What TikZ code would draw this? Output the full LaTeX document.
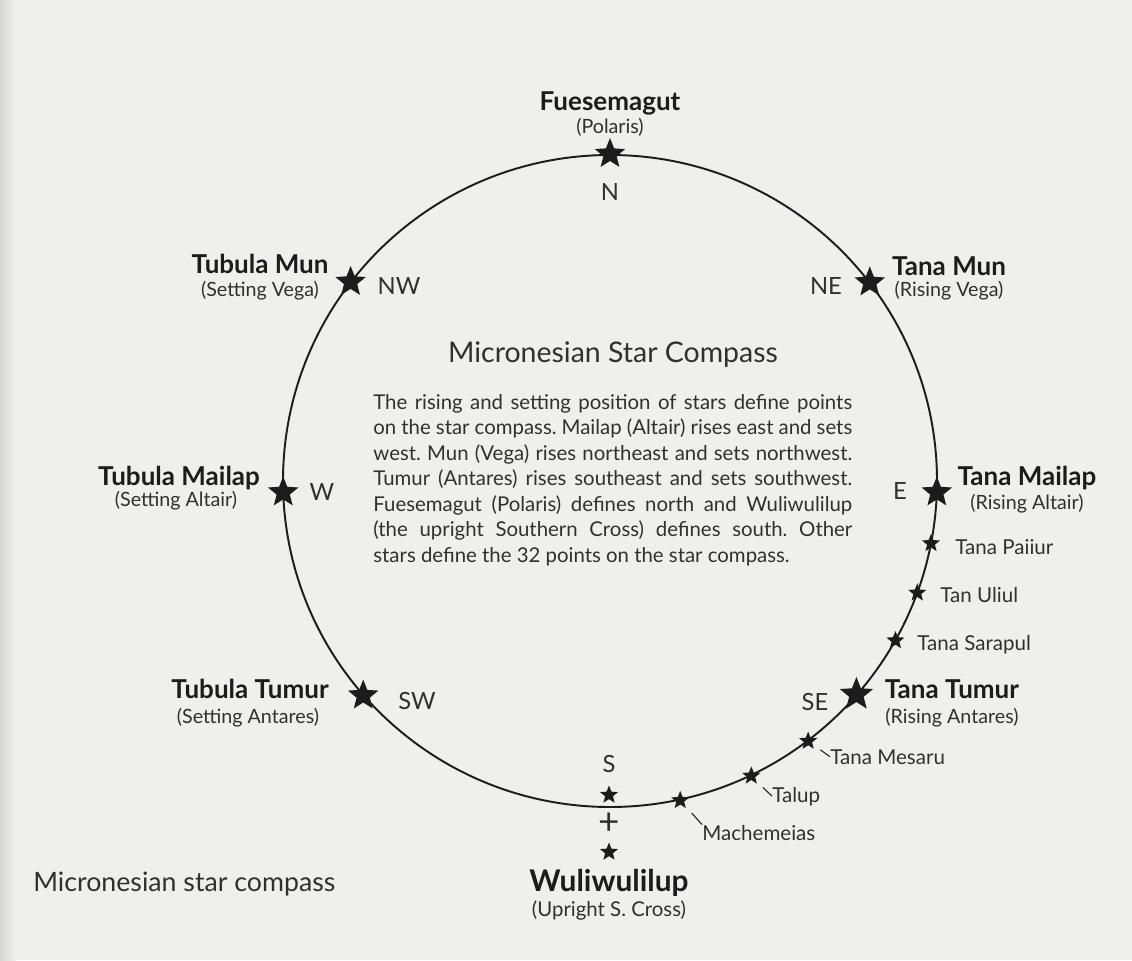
\documentclass[tikz,border=0pt]{standalone}
\usepackage{fontspec}
\setmainfont{Lato}
\frenchspacing
\usetikzlibrary{shapes.geometric,calc}
\definecolor{paper}{HTML}{EFEFED}
\definecolor{shadow}{HTML}{D6D6D4}
\definecolor{ink}{HTML}{1C1C1C}
\definecolor{inksoft}{HTML}{303030}

\begin{document}
\begin{tikzpicture}[x=0.02cm,y=-0.02cm,
  bigstar/.style={star,star points=5,star point ratio=2.3,fill=ink,draw=none,inner sep=0pt,minimum size=0.64cm},
  hugestar/.style={bigstar,minimum size=0.70cm},
  smallstar/.style={star,star points=5,star point ratio=2.3,fill=ink,draw=none,inner sep=0pt,minimum size=0.38cm},
  starname/.style={font=\bfseries\fontsize{14.8}{16}\selectfont,text=ink,inner sep=0pt,anchor=base},
  starsub/.style={font=\fontsize{11.2}{13}\selectfont,text=inksoft,inner sep=0pt,anchor=base},
  compassdir/.style={font=\fontsize{13.5}{15}\selectfont,text=inksoft,inner sep=0pt,anchor=base},
  minorname/.style={font=\fontsize{11.7}{13}\selectfont,text=inksoft,inner sep=0pt,anchor=base west},
  leader/.style={draw=ink,line width=0.6pt,shorten <=5.1pt}
]
% paper, with the darker fold along the left edge
\fill[paper] (0,0) rectangle (1132,960);
\shade[left color=shadow,right color=paper] (0,0) rectangle (16,960);
\useasboundingbox (0,0) rectangle (1132,960);

% the compass ring
\coordinate (O) at (610,481);
\draw[ink,line width=1.1pt] (O) circle [x radius=327, y radius=326];

% cardinal and intercardinal stars (angles measured clockwise, y grows downward)
\node[bigstar]  (sN)  at ($(O)+(-90:327)$) {};
\node[bigstar]  (sNE) at ($(O)+(-37.4:327)$) {};
\node[bigstar]  (sNW) at ($(O)+(-142.5:327)$) {};
\node[bigstar]  (sE)  at ($(O)+(2:327)$) {};
\node[bigstar]  (sW)  at ($(O)+(178:327)$) {};
\node[hugestar] (sSE) at ($(O)+(40.9:326)$) {};
\node[bigstar]  (sSW) at ($(O)+(139:327)$) {};

% minor stars between east and south
\node[smallstar] (sPai) at ($(O)+(11:327)$) {};
\node[smallstar] (sUli) at ($(O)+(20:327)$) {};
\node[smallstar] (sSar) at ($(O)+(29.2:327)$) {};
\node[smallstar] (sMes) at ($(O)+(52.7:327)$) {};
\node[smallstar] (sTal) at ($(O)+(64.4:327)$) {};
\node[smallstar] (sMac) at ($(O)+(77.6:327)$) {};

% Southern Cross, upright
\node[smallstar] (sCrossTop) at (609,795) {};
\node[smallstar] (sCrossBot) at (609,852) {};
\node[font=\fontsize{21}{22}\selectfont,text=inksoft,inner sep=0pt] (plus) at (609,824) {+};

% north
\node[starname] (lN)  at (610,110) {Fuesemagut};
\node[starsub]  (lNs) at (610,133) {(Polaris)};
\node[compassdir] (dN) at (610,200) {N};

% north-west / north-east
\node[starname] (lNW)  at (260,273) {Tubula Mun};
\node[starsub]  (lNWs) at (260,296) {(Setting Vega)};
\node[compassdir] (dNW) at (399,294) {NW};
\node[starname] (lNE)  at (949,275) {Tana Mun};
\node[starsub]  (lNEs) at (949,296) {(Rising Vega)};
\node[compassdir] (dNE) at (826,294) {NE};

% west / east
\node[starname] (lW)  at (179,485) {Tubula Mailap};
\node[starsub]  (lWs) at (176,506) {(Setting Altair)};
\node[compassdir] (dW) at (322,500) {W};
\node[starname] (lE)  at (1027,485) {Tana Mailap};
\node[starsub]  (lEs) at (1027,509) {(Rising Altair)};
\node[compassdir] (dE) at (900,499) {E};

% south-west / south-east
\node[starname] (lSW)  at (250,698) {Tubula Tumur};
\node[starsub]  (lSWs) at (248,723) {(Setting Antares)};
\node[compassdir] (dSW) at (417,709) {SW};
\node[starname] (lSE)  at (952,698) {Tana Tumur};
\node[starsub]  (lSEs) at (952,723) {(Rising Antares)};
\node[compassdir] (dSE) at (815,710) {SE};

% south
\node[compassdir] (dS) at (609,772) {S};
\node[starname,font=\bfseries\fontsize{17}{19}\selectfont] (lS) at (609,891) {Wuliwulilup};
\node[starsub,font=\fontsize{11.6}{13}\selectfont] (lSs) at (609,916) {(Upright S. Cross)};

% minor star names
\node[minorname] (lPai) at (955,554) {Tana Paiiur};
\node[minorname] (lUli) at (940,602) {Tan Uliul};
\node[minorname] (lSar) at (917,650) {Tana Sarapul};
\node[minorname] (lMes) at (830,764) {Tana Mesaru};
\node[minorname] (lTal) at (772,802) {Talup};
\node[minorname] (lMac) at (702,840) {Machemeias};
\draw[leader] (sMes) -- (lMes.west);
\draw[leader] (sTal) -- (lTal.west);
\draw[leader] (sMac) -- (lMac.north west);

% title and explanation
\node[font=\fontsize{16.2}{18}\selectfont,text=inksoft,inner sep=0pt,anchor=base] (title) at (613,362) {Micronesian Star Compass};
\node[font=\fontsize{11.6}{14.5}\selectfont,text=inksoft,inner sep=0pt,anchor=north west,align=left] (body) at (373,394) {%
\makebox[9.58cm][s]{The rising and setting position of stars define points}\\
\makebox[9.58cm][s]{on the star compass. Mailap (Altair) rises east and sets}\\
\makebox[9.58cm][s]{west. Mun (Vega) rises northeast and sets northwest.}\\
\makebox[9.58cm][s]{Tumur (Antares) rises southeast and sets southwest.}\\
\makebox[9.58cm][s]{Fuesemagut (Polaris) defines north and Wuliwulilup}\\
\makebox[9.58cm][s]{(the upright Southern Cross) defines south. Other}\\
\makebox[9.58cm][l]{stars define the 32 points on the star compass.}};

% caption
\node[font=\fontsize{15.2}{17}\selectfont,text=inksoft,inner sep=0pt,anchor=base west] (caption) at (33,891) {Micronesian star compass};
\end{tikzpicture}
\end{document}
